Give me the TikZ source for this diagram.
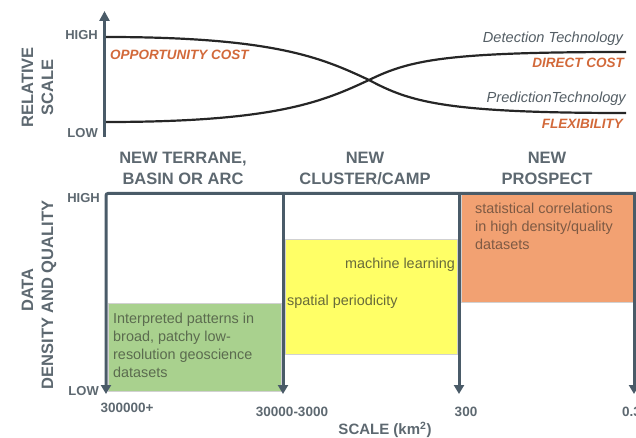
\documentclass[tikz,border=0pt]{standalone}
\usepackage{fontspec}
\setmainfont{Liberation Sans}
\usetikzlibrary{arrows.meta}
\definecolor{axisc}{HTML}{4A5B68}
\definecolor{txtgray}{HTML}{5D6870}
\definecolor{orangetxt}{HTML}{D2693A}
\definecolor{greenfill}{HTML}{A9D18E}
\definecolor{yellowfill}{HTML}{FFFF66}
\definecolor{orangefill}{HTML}{F2A172}
\definecolor{greentxt}{HTML}{5B6B4F}
\definecolor{yellowtxt}{HTML}{686B3A}
\definecolor{orangetxt2}{HTML}{7E5A44}
\tikzset{
  axisline/.style={draw=axisc, line width=3pt},
  arrowdown/.style={axisline, -{Triangle[width=10pt,length=9pt]}},
  curveline/.style={draw=black!85, line width=2.2pt},
  hdr/.style={font=\fontsize{16.5}{20}\selectfont\bfseries, text=txtgray, inner sep=0pt, anchor=base},
  sidelbl/.style={font=\fontsize{16.5}{20}\selectfont\bfseries, text=txtgray, inner sep=0pt, anchor=base, rotate=90},
  hilo/.style={font=\fontsize{13}{15}\selectfont\bfseries, text=txtgray, inner sep=0pt, anchor=base east},
  costlbl/.style={font=\fontsize{13.5}{16}\selectfont\bfseries\itshape, text=orangetxt, inner sep=0pt},
  techlbl/.style={font=\fontsize{14.6}{16}\selectfont\itshape, text=txtgray!90!black, inner sep=0pt, anchor=base east},
  boxtxt/.style={font=\fontsize{14.4}{18}\selectfont, inner sep=0pt, anchor=base west},
  scalelbl/.style={font=\fontsize{13.5}{16}\selectfont\bfseries, text=txtgray, inner sep=0pt, anchor=base},
  fillbox/.style={draw=black!18, line width=0.6pt}
}
\begin{document}
\begin{tikzpicture}[x=1pt,y=-1pt]
\useasboundingbox (0,0) rectangle (636,438);
% ---------- top panel ----------
\coordinate (ta0) at (104.5,137);
\coordinate (ta1) at (104.5,11);
\draw[axisline, -{Triangle[width=10pt,length=10pt]}] (ta0) -- (ta1);
\node[hilo] (hi1) at (98,40) {HIGH};
\node[hilo] (lo1) at (98,138) {LOW};
\node[sidelbl] (rel) at (33,87.5) {RELATIVE};
\node[sidelbl] (scl) at (53,87.5) {SCALE};
\coordinate (ca0) at (106,37);
\coordinate (cx) at (369,80);
\coordinate (ca1) at (626,113);
\coordinate (cb0) at (106,122);
\coordinate (cb1) at (626,52);
\draw[curveline] (ca0) .. controls (275,37) and (322,58) .. (cx) .. controls (410,102) and (445,113) .. (ca1);
\draw[curveline] (cb0) .. controls (275,122) and (322,102) .. (cx) .. controls (410,60) and (445,52) .. (cb1);
\node[costlbl, anchor=base west] (opp) at (110,60) {OPPORTUNITY COST};
\node[techlbl] (det) at (623,43) {Detection Technology};
\node[costlbl, anchor=base east] (dir) at (624,68) {DIRECT COST};
\node[techlbl] (pred) at (626,103) {PredictionTechnology};
\node[costlbl, anchor=base east] (flex) at (623,129) {FLEXIBILITY};
% ---------- bottom panel ----------
\node[hdr] (h1a) at (183,164) {NEW TERRANE,};
\node[hdr] (h1b) at (183,185) {BASIN OR ARC};
\node[hdr] (h2a) at (365,164) {NEW};
\node[hdr] (h2b) at (365,185) {CLUSTER/CAMP};
\node[hdr] (h3a) at (547,164) {NEW};
\node[hdr] (h3b) at (547,185) {PROSPECT};
% boxes
\path[fillbox, fill=greenfill] (108,303) rectangle (281,391);
\path[fillbox, fill=yellowfill] (285,239) rectangle (457,354);
\path[fillbox, fill=orangefill] (461,194) rectangle (634,302);
\node[boxtxt, text=greentxt] (g1) at (113,323) {Interpreted patterns in};
\node[boxtxt, text=greentxt] (g2) at (113,341) {broad, patchy low-};
\node[boxtxt, text=greentxt] (g3) at (113,359) {resolution geoscience};
\node[boxtxt, text=greentxt] (g4) at (113,377) {datasets};
\node[boxtxt, text=yellowtxt, anchor=base east] (y1) at (455,268) {machine learning};
\node[boxtxt, text=yellowtxt] (y2) at (287,305) {spatial periodicity};
\node[boxtxt, text=orangetxt2] (o1) at (475,213) {statistical correlations};
\node[boxtxt, text=orangetxt2] (o2) at (475,231) {in high density/quality};
\node[boxtxt, text=orangetxt2] (o3) at (475,249) {datasets};
% frame and arrows
\coordinate (fl) at (106,193.5);
\coordinate (fr) at (640,193.5);
\coordinate (b0) at (106,394);
\coordinate (m1t) at (283,193.5);
\coordinate (m1b) at (283,394);
\coordinate (m2t) at (459,193.5);
\coordinate (m2b) at (459,394);
\coordinate (m3t) at (634,193.5);
\coordinate (m3b) at (634,394);
\draw[arrowdown, rounded corners=2pt] (fr) -- (fl) -- (b0);
\draw[arrowdown] (m1t) -- (m1b);
\draw[arrowdown] (m2t) -- (m2b);
\draw[arrowdown] (m3t) -- (m3b);
\node[hilo] (hi2) at (100,203) {HIGH};
\node[hilo] (lo2) at (99,395) {LOW};
\node[sidelbl] (dat) at (33,290) {DATA};
\node[sidelbl] (dq) at (53,295) {DENSITY AND QUALITY};
\node[scalelbl] (s1) at (127,412) {300000+};
\node[scalelbl] (s2) at (292,416) {30000-3000};
\node[scalelbl] (s3) at (466,416) {300};
\node[scalelbl, anchor=base west] (s4) at (622,416) {0.3};
\node[font=\fontsize{15}{17}\selectfont\bfseries, text=txtgray, inner sep=0pt, anchor=base] (sc) at (385,434.5) {SCALE (km\textsuperscript{2})};
\end{tikzpicture}
\end{document}
